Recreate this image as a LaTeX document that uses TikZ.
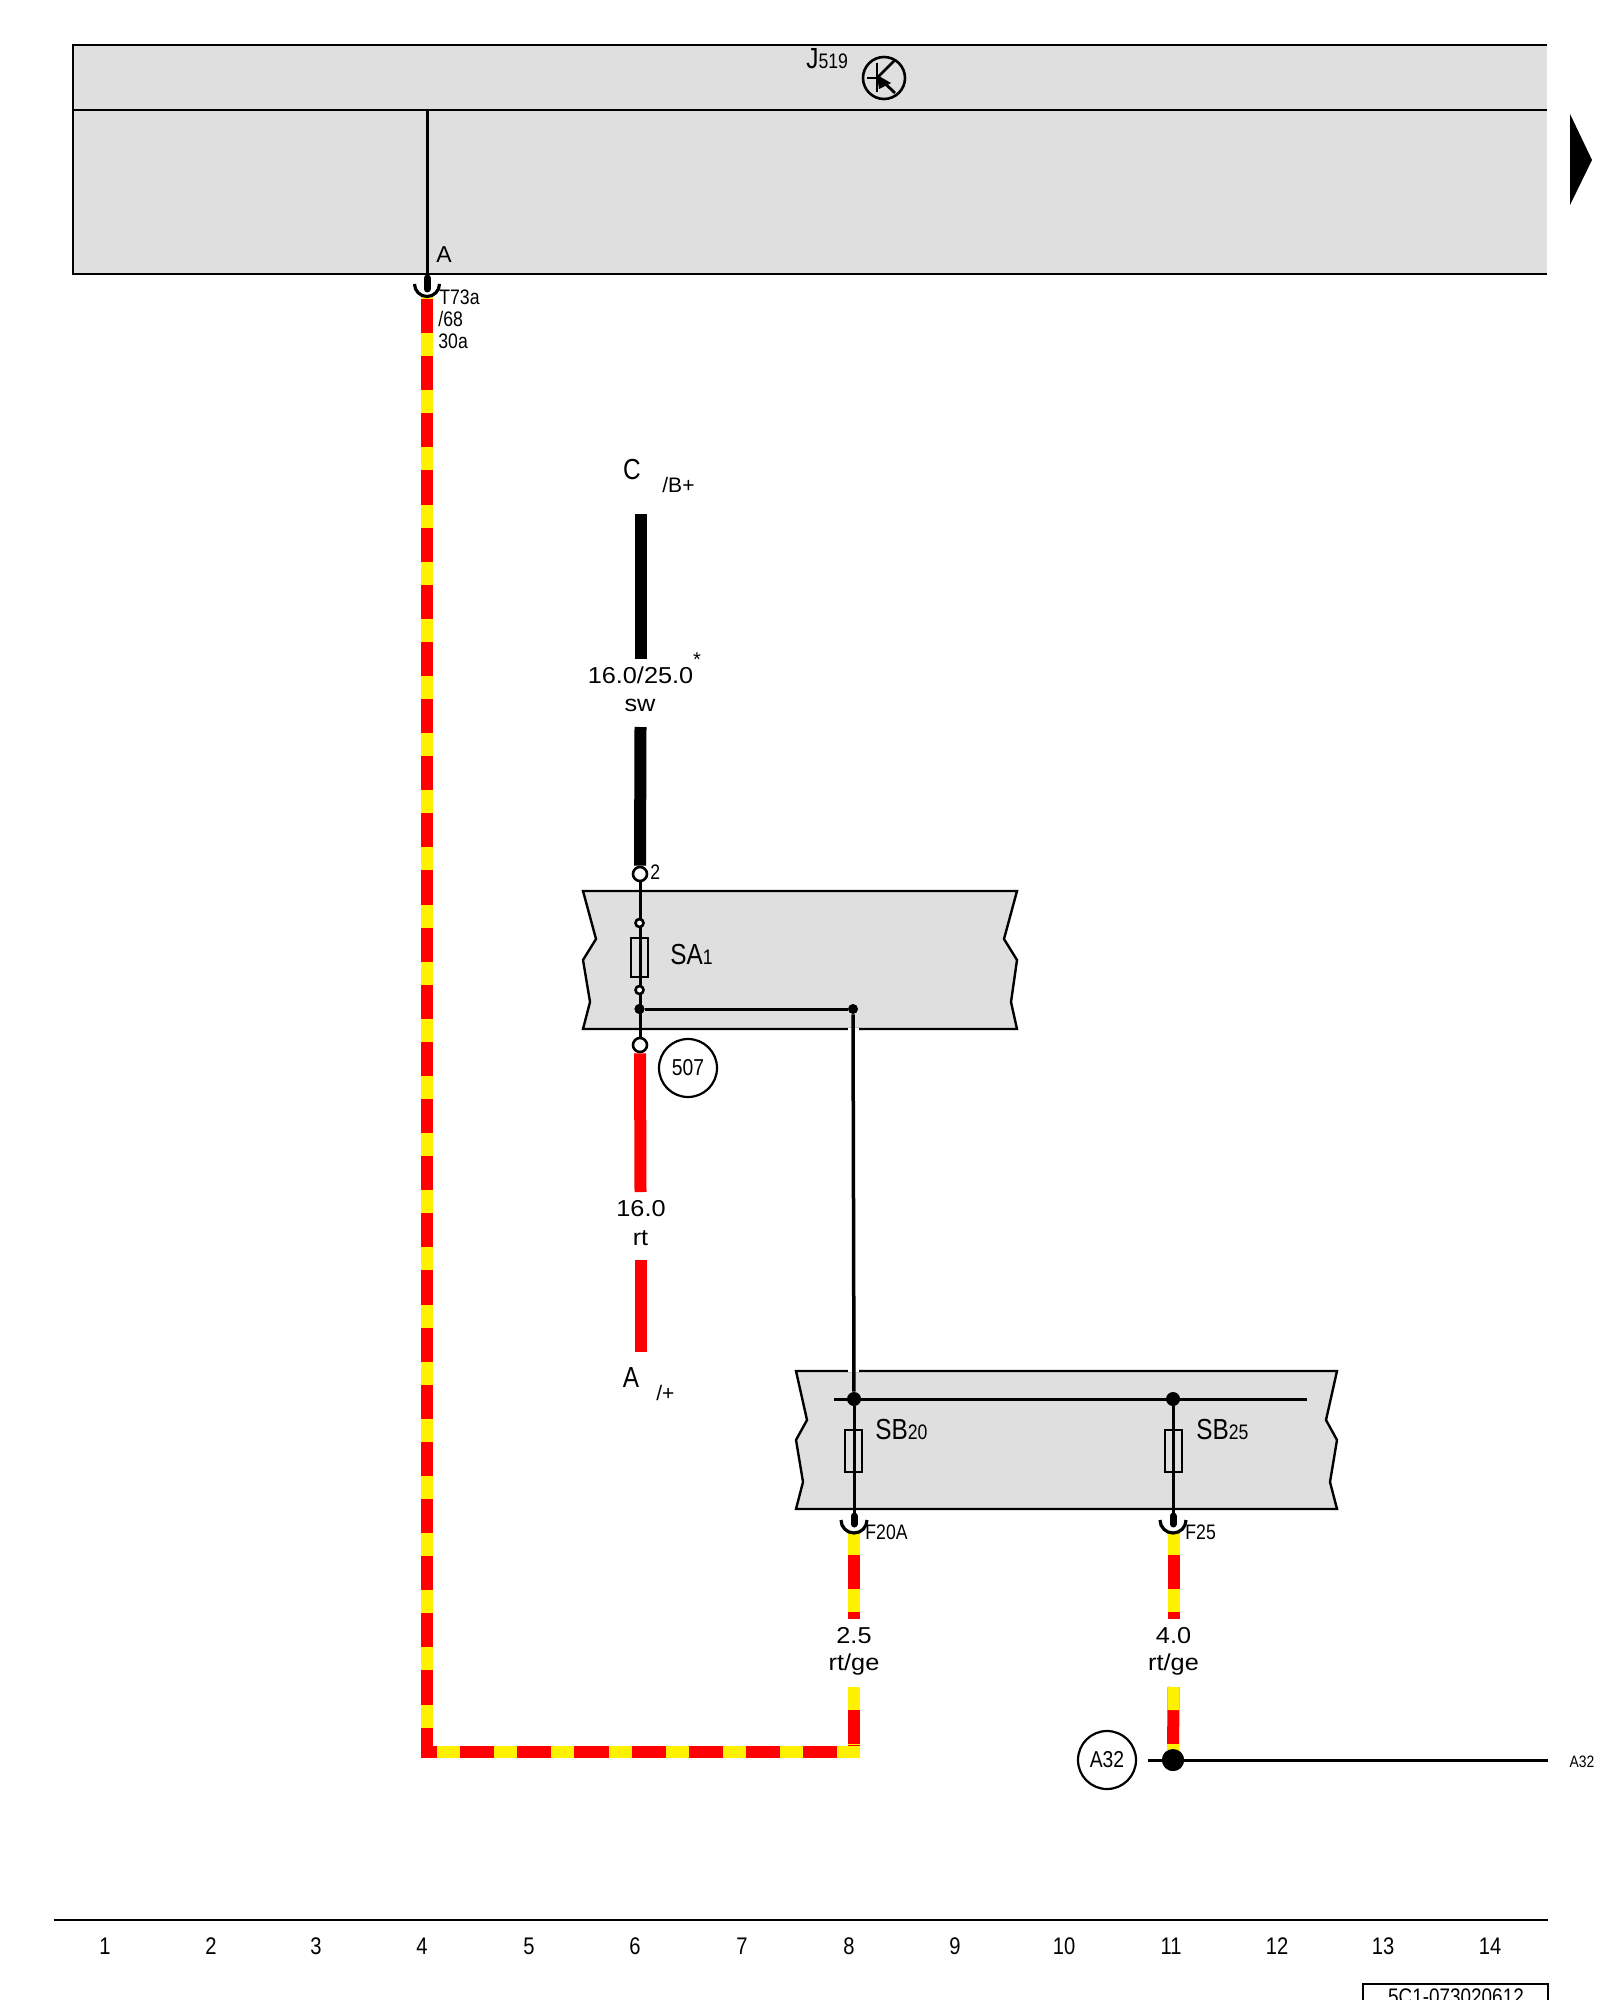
\documentclass[tikz,border=0pt]{standalone}
\usepackage{fontspec}
\setmainfont{Liberation Sans}
\newfontfamily\narrowfont[FakeStretch=0.84]{Liberation Sans}
\newfontfamily\widefont[FakeStretch=1.1]{Liberation Sans}
\usetikzlibrary{calc}
\definecolor{boxgray}{HTML}{DFDFDF}
\tikzset{
    box/.style = {draw=black, fill=boxgray, line width=1.2pt},
    thinwire/.style = {black, line width=1.5pt},
    wirebase/.style = {line width=6pt, line cap=butt},
    wirey/.style = {wirebase, yellow, dash pattern=on 11.5pt off 17.07pt},
    term/.style = {draw=black, fill=white, circle, line width=1.3pt, minimum size=7pt, inner sep=0pt},
    smallterm/.style = {draw=black, fill=white, circle, line width=1.3pt, minimum size=4pt, inner sep=0pt},
    dot/.style = {fill=black, circle, minimum size=7pt, inner sep=0pt},
    fuse/.style = {draw=black, line width=1.3pt, minimum width=8.5pt, minimum height=20pt, inner sep=0pt},
    callout/.style = {draw=black, circle, line width=1.1pt, minimum size=29pt, inner sep=0pt, font=\narrowfont\fontsize{11.5}{12}\selectfont},
    lab/.style = {inner sep=0pt, anchor=base west, font=\narrowfont\fontsize{10.5}{12}\selectfont},
    wlab/.style = {inner sep=0pt, anchor=base, font=\widefont\fontsize{11.5}{12}\selectfont},
    biglab/.style = {inner sep=0pt, anchor=base, font=\narrowfont\fontsize{14.5}{16}\selectfont},
    endlab/.style = {inner sep=0pt, anchor=base west, font=\fontsize{10.5}{12}\selectfont},
    colnum/.style = {inner sep=0pt, anchor=base, font=\narrowfont\fontsize{12}{14}\selectfont},
}
\newcommand{\subnum}[1]{{\fontsize{10.5}{12}\selectfont #1}}
\begin{document}
\begin{tikzpicture}[x=0.5pt, y=-0.5pt]
    \useasboundingbox (0,0) rectangle (1600,2000);

    % control unit
    \fill[boxgray] (73,45) rectangle (1547,274);
    \draw[black, line width=1.2pt] (1547,45) -- (73,45) -- (73,274) -- (1547,274);
    \draw[black, line width=1.4pt] (73,110) -- (1547,110);
    \node[biglab, anchor=base west] (j519) at (806,69) {J\subnum{519}};
    \node[draw=black, circle, line width=1.3pt, minimum size=21pt, inner sep=0pt] (tr) at (884,78) {};
    \draw[black, line width=1.4pt] (867,78) -- (877,78);
    \draw[black, line width=1.4pt] (877,63) -- (877,92);
    \draw[black, line width=1.4pt] (877,78) -- (895,60);
    \draw[black, line width=1.4pt] (877,76) -- (895,93);
    \fill[black] (877,75) -- (879,89) -- (891,83) -- cycle;
    \fill[black] (1570,114) -- (1592,160) -- (1570,205) -- cycle;

    % fuse carriers
    \draw[box] (583,891) -- (1017,891) -- (1004,939) -- (1017,960) -- (1011,1002) -- (1017,1029)
        -- (583,1029) -- (590,1002) -- (583,960) -- (596,939) -- cycle;
    \draw[box] (796,1371) -- (1337,1371) -- (1326,1420) -- (1337,1440) -- (1330,1482) -- (1337,1509)
        -- (796,1509) -- (803,1482) -- (796,1440) -- (807,1420) -- cycle;

    % red/yellow run from T73a to F20A
    \coordinate (plugA) at (427,284);
    \coordinate (runa) at (426.5,296);
    \coordinate (runb) at (426.5,1757);
    \coordinate (runc) at (421,1751.5);
    \coordinate (rund) at (853.5,1751.5);
    \coordinate (rune) at (859.5,1751.5);
    \coordinate (runf) at (853.5,1687);
    \draw[wirebase, red, line join=miter] (runa) -- (426.5,1751.5) -- (rund) -- (runf);
    \draw[wirey, dash phase=10pt] (runa) -- (runb);
    \draw[wirey, dash phase=20.5pt] (runc) -- (rune);
    \draw[wirey] (runf) -- (853.5,1745);

    % stub below F20A
    \coordinate (plugF20) at (854,1520);
    \coordinate (stuba) at (853.5,1532);
    \coordinate (stubb) at (853.5,1619);
    \draw[wirebase, red] (stuba) -- (stubb);
    \draw[wirey] (stuba) -- (stubb);

    % stub below F25 and on to A32
    \coordinate (plugF25) at (1173,1520);
    \coordinate (stubc) at (1173.5,1532);
    \coordinate (stubd) at (1173.5,1619);
    \coordinate (stube) at (1173.5,1687);
    \draw[wirebase, red] (stubc) -- (stubd);
    \draw[wirey] (stubc) -- (stubd);
    \node[dot, minimum size=11pt] (a32dot) at (1173,1760) {};
    \draw[wirebase, red] (stube) -- (a32dot.center);
    \draw[wirey] (stube) -- (a32dot.center);
    \node[dot, minimum size=11pt] at (a32dot) {};
    \coordinate (a32l) at (1147.5,1760);
    \coordinate (a32r) at (1547.5,1760);
    \draw[thinwire] (a32l) -- (a32r);
    \node[callout] (a32c) at (1107,1760) {A32};
    \node[lab, font=\narrowfont\fontsize{8.25}{10}\selectfont, anchor=base] (a32t) at (1582,1767) {A32};

    % battery feed
    \node[term] (t2) at (640,874) {};
    \node[term] (t507) at (640,1045) {};
    \coordinate (swa) at (640.5,514);
    \coordinate (swb) at (640.5,659);
    \coordinate (swc) at (640.5,727);
    \draw[wirebase, black] (swa) -- (swb);
    \draw[wirebase, black] (swc) -- (t2.north);
    \coordinate (rta) at (640.5,1192);
    \coordinate (rtb) at (640.5,1260);
    \coordinate (rtc) at (640.5,1352);
    \draw[wirebase, red] (t507.south) -- (rta);
    \draw[wirebase, red] (rtb) -- (rtc);

    % SA1
    \node[dot, minimum size=5pt] (ja) at (639.5,1009) {};
    \node[dot, minimum size=5pt] (jb) at (853,1009) {};
    \draw[thinwire] (t2) -- (t507);
    \node[fuse, minimum height=19.5pt] (sa1) at (639.5,957.5) {};
    \node[smallterm] (s1) at (639.5,923) {};
    \node[smallterm] (s2) at (639.5,990) {};
    \node[dot, minimum size=5pt] at (ja) {};
    \draw[thinwire] (ja) -- (jb);
    \node[biglab, anchor=base west] (sa1t) at (670,964) {SA\subnum{1}};
    \node[callout] (c507) at (688,1068) {507};

    % link between carriers
    \node[dot] (busa) at (854,1399) {};
    \node[dot] (busb) at (1173,1399) {};
    \draw[white, line width=5.5pt] (853,1028) -- (853,1372);
    \draw[black, line width=1.75pt] (jb) -- (busa);

    % SB bus
    \coordinate (busl) at (834,1399);
    \coordinate (busr) at (1307,1399);
    \draw[thinwire] (busl) -- (busr);
    \draw[thinwire] (busa) -- (plugF20);
    \draw[thinwire] (busb) -- (plugF25);
    \node[fuse, minimum height=21pt] (sb20) at (853.5,1451) {};
    \node[fuse, minimum height=21pt] (sb25) at (1173.5,1451) {};
    \node[biglab, anchor=base west] (sb20t) at (875,1439) {SB\subnum{20}};
    \node[biglab, anchor=base west] (sb25t) at (1196,1439) {SB\subnum{25}};

    % plugs
    \draw[black, line width=3.5pt, line cap=round] (427,278) -- (427,289);
    \draw[thinwire] (427,110) -- (427,280);
    \draw[black, line width=1.6pt] (414.5,284) arc (180:360:6.25pt);
    \draw[black, line width=3.5pt, line cap=round] (854,1516) -- (854,1524);
    \draw[black, line width=1.6pt] (841,1520) arc (180:360:6.5pt);
    \draw[black, line width=3.5pt, line cap=round] (1173,1516) -- (1173,1524);
    \draw[black, line width=1.6pt] (1160,1520) arc (180:360:6.5pt);

    % labels
    \node[inner sep=0pt, anchor=base, font=\fontsize{11.5}{12}\selectfont] (pina) at (444,263) {A};
    \node[lab] (t73a) at (439,305) {T73a};
    \node[lab] (t73b) at (438,327) {/68};
    \node[lab] (t73c) at (438,349) {30a};
    \node[lab] (pin2) at (650,879) {2};
    \node[lab] (f20a) at (865,1539) {F20A};
    \node[lab] (f25) at (1185,1539) {F25};
    \node[biglab] (labc) at (632,480) {C};
    \node[endlab] (labb) at (662,493) {/B+};
    \node[biglab] (laba) at (631,1387) {A};
    \node[endlab] (labp) at (656,1400) {/+};
    \node[wlab] (sz1) at (640.5,683.5) {16.0/25.0};
    \node[inner sep=0pt, font=\fontsize{10}{10}\selectfont] (star) at (697,660) {*};
    \node[wlab] (col1) at (640,711) {sw};
    \node[wlab] (sz2) at (641,1216) {16.0};
    \node[wlab] (col2) at (640.5,1245) {rt};
    \node[wlab] (sz3) at (854,1643) {2.5};
    \node[wlab] (col3) at (854,1670) {rt/ge};
    \node[wlab] (sz4) at (1173.5,1643) {4.0};
    \node[wlab] (col4) at (1173.5,1670) {rt/ge};

    % column ruler
    \draw[black, line width=1.2pt] (53.5,1920) -- (1547.5,1920);
    \foreach \i/\xpos in {1/105,2/211,3/316,4/422,5/529,6/635,7/742,8/849,9/955,10/1064,11/1171,12/1277,13/1383,14/1490} {
        \node[colnum] (num\i) at (\xpos,1954) {\i};
    }
    \draw[black, line width=1.2pt] (1363,2012) -- (1363,1984) -- (1548,1984) -- (1548,2012);
    \node[lab, anchor=base, font=\narrowfont\fontsize{11.25}{13}\selectfont] (docno) at (1456,2004) {5C1-073020612};
\end{tikzpicture}
\end{document}
